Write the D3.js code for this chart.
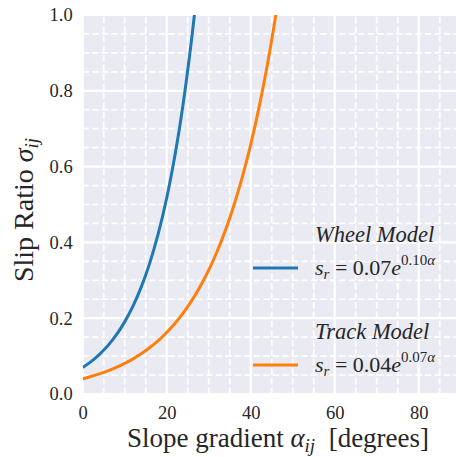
<!DOCTYPE html>
<html>
<head>
<meta charset="utf-8">
<script src="https://cdn.jsdelivr.net/npm/d3@7"></script>
<style>
  body { margin: 0; background: #fff; }
  svg { display: block; }
</style>
</head>
<body>
<script>
// slope angle (deg) vs slip ratio for the two locomotion models
const wheelAlpha = [0, 2, 4, 6, 8, 10, 12, 14, 16, 18, 20, 22, 24, 26, 27];
const wheelSlip = [0.070, 0.0855, 0.1044, 0.1276, 0.1558, 0.1903, 0.2324, 0.2839, 0.3467, 0.4235, 0.5172, 0.6318, 0.7716, 0.9425, 1.0431];
const trackAlpha = [0, 2, 4, 6, 8, 10, 12, 14, 16, 18, 20, 22, 24, 26, 28, 30, 32, 34, 36, 38, 40, 42, 44, 46, 47];
const trackSlip = [0.040, 0.046, 0.0529, 0.0609, 0.070, 0.0806, 0.0927, 0.1066, 0.1227, 0.1410, 0.1622, 0.1866, 0.2147, 0.2469, 0.2841, 0.3266, 0.3759, 0.4324, 0.4974, 0.5721, 0.6578, 0.7568, 0.8705, 1.0012, 1.0738];

const xTicks = [0, 20, 40, 60, 80];
const yTicks = [0.0, 0.2, 0.4, 0.6, 0.8, 1.0];

const W = 456, H = 457;
const pLeft = 82.7, pRight = 460.7, pTop = 15, pBottom = 394;
const FONT = '"Liberation Serif"';

const svg = d3.select("body").append("svg")
    .attr("width", W)
    .attr("height", H);

const x = d3.scaleLinear([0, 90], [pLeft, pRight]);
const y = d3.scaleLinear([0, 1], [pBottom, pTop]);

// axes background
svg.append("rect")
    .attr("x", pLeft).attr("y", pTop)
    .attr("width", pRight - pLeft).attr("height", pBottom - pTop)
    .attr("fill", "#eaeaf2");

// grid: dashed minor lines, solid major lines
const grid = svg.append("g");
const xMinor = d3.range(5, 90, 5).filter(v => v % 20 != 0);
const yMinor = d3.range(1, 20).map(i => i * 0.05).filter(v => Math.abs(v * 5 - Math.round(v * 5)) > 1e-6);

grid.selectAll(".xmin").data(xMinor).enter().append("line")
    .attr("x1", d => x(d)).attr("x2", d => x(d))
    .attr("y1", pBottom).attr("y2", pTop)
    .attr("stroke", "#fff").attr("stroke-width", 1.7)
    .attr("stroke-dasharray", "6.5,3");
grid.selectAll(".ymin").data(yMinor).enter().append("line")
    .attr("x1", pLeft).attr("x2", pRight)
    .attr("y1", d => y(d)).attr("y2", d => y(d))
    .attr("stroke", "#fff").attr("stroke-width", 1.7)
    .attr("stroke-dasharray", "6.5,3");
grid.selectAll(".xmaj").data(xTicks).enter().append("line")
    .attr("x1", d => x(d)).attr("x2", d => x(d))
    .attr("y1", pBottom).attr("y2", pTop)
    .attr("stroke", "#fff").attr("stroke-width", 2.2);
grid.selectAll(".ymaj").data(yTicks).enter().append("line")
    .attr("x1", pLeft).attr("x2", pRight)
    .attr("y1", d => y(d)).attr("y2", d => y(d))
    .attr("stroke", "#fff").attr("stroke-width", 2.2);

svg.append("clipPath").attr("id", "plot")
    .append("rect")
    .attr("x", pLeft).attr("y", pTop)
    .attr("width", pRight - pLeft).attr("height", pBottom - pTop);

const line = d3.line()
    .x(d => x(d[0]))
    .y(d => y(d[1]))
    .curve(d3.curveNatural);

const series = [
    { pts: d3.zip(wheelAlpha, wheelSlip), color: "#1f77b4" },
    { pts: d3.zip(trackAlpha, trackSlip), color: "#ff7f0e" }
];

svg.append("g")
    .attr("clip-path", "url(#plot)")
    .selectAll("path")
    .data(series)
    .enter()
    .append("path")
    .attr("fill", "none")
    .attr("stroke", d => d.color)
    .attr("stroke-width", 3)
    .attr("d", d => line(d.pts));

// tick labels
const yAxis = svg.append("g")
    .attr("transform", `translate(${pLeft},0)`)
    .call(d3.axisLeft(y).tickValues(yTicks).tickFormat(d3.format(".1f")).tickSize(0).tickPadding(10));
const xAxis = svg.append("g")
    .attr("transform", `translate(0,${pBottom})`)
    .call(d3.axisBottom(x).tickValues(xTicks).tickSize(0).tickPadding(12));

[yAxis, xAxis].forEach(a => {
    a.select(".domain").remove();
    a.selectAll("text")
        .style("font-family", FONT)
        .style("font-size", "18.5px")
        .attr("fill", "#262626");
});

// axis titles
const xl = svg.append("text")
    .attr("x", 278).attr("y", 447)
    .attr("text-anchor", "middle")
    .style("font-family", FONT)
    .style("font-size", "27px")
    .attr("fill", "#262626");
xl.append("tspan").text("Slope gradient ");
xl.append("tspan").style("font-style", "italic").text("α");
xl.append("tspan").style("font-style", "italic").style("font-size", "19px").attr("dy", 5).text("ij");
xl.append("tspan").attr("dy", -5).attr("xml:space", "preserve").text("  [degrees]");

const yl = svg.append("text")
    .attr("transform", "translate(33,210) rotate(-90)")
    .attr("text-anchor", "middle")
    .style("font-family", FONT)
    .style("font-size", "28px")
    .attr("fill", "#262626");
yl.append("tspan").text("Slip Ratio ");
yl.append("tspan").style("font-style", "italic").text("σ");
yl.append("tspan").style("font-style", "italic").style("font-size", "19px").attr("dy", 5).text("ij");

// legend
const legendNames = ["Wheel Model", "Track Model"];
const legendCoef = ["0.07", "0.04"];
const legendRate = ["0.10", "0.07"];
const legendColors = ["#1f77b4", "#ff7f0e"];

const leg = svg.append("g");
legendNames.forEach((name, i) => {
    const oy = i * 97;
    leg.append("text")
        .attr("x", 315).attr("y", 242 + oy)
        .style("font-family", FONT)
        .style("font-style", "italic")
        .style("font-size", "22.5px")
        .attr("fill", "#262626")
        .text(name);
    leg.append("line")
        .attr("x1", 253).attr("x2", 298)
        .attr("y1", 268 + oy).attr("y2", 268 + oy)
        .attr("stroke", legendColors[i])
        .attr("stroke-width", 3);
    const eq = leg.append("text")
        .attr("x", 315).attr("y", 275 + oy)
        .style("font-family", FONT)
        .style("font-size", "22px")
        .attr("fill", "#262626");
    eq.append("tspan").style("font-style", "italic").text("s");
    eq.append("tspan").style("font-style", "italic").style("font-size", "15px").attr("dy", 4).text("r");
    eq.append("tspan").attr("dy", -4).text(" = " + legendCoef[i]);
    eq.append("tspan").style("font-style", "italic").text("e");
    eq.append("tspan").style("font-size", "15px").attr("dy", -10).text(legendRate[i]);
    eq.append("tspan").style("font-size", "15px").style("font-style", "italic").text("α");
});
</script>
</body>
</html>
